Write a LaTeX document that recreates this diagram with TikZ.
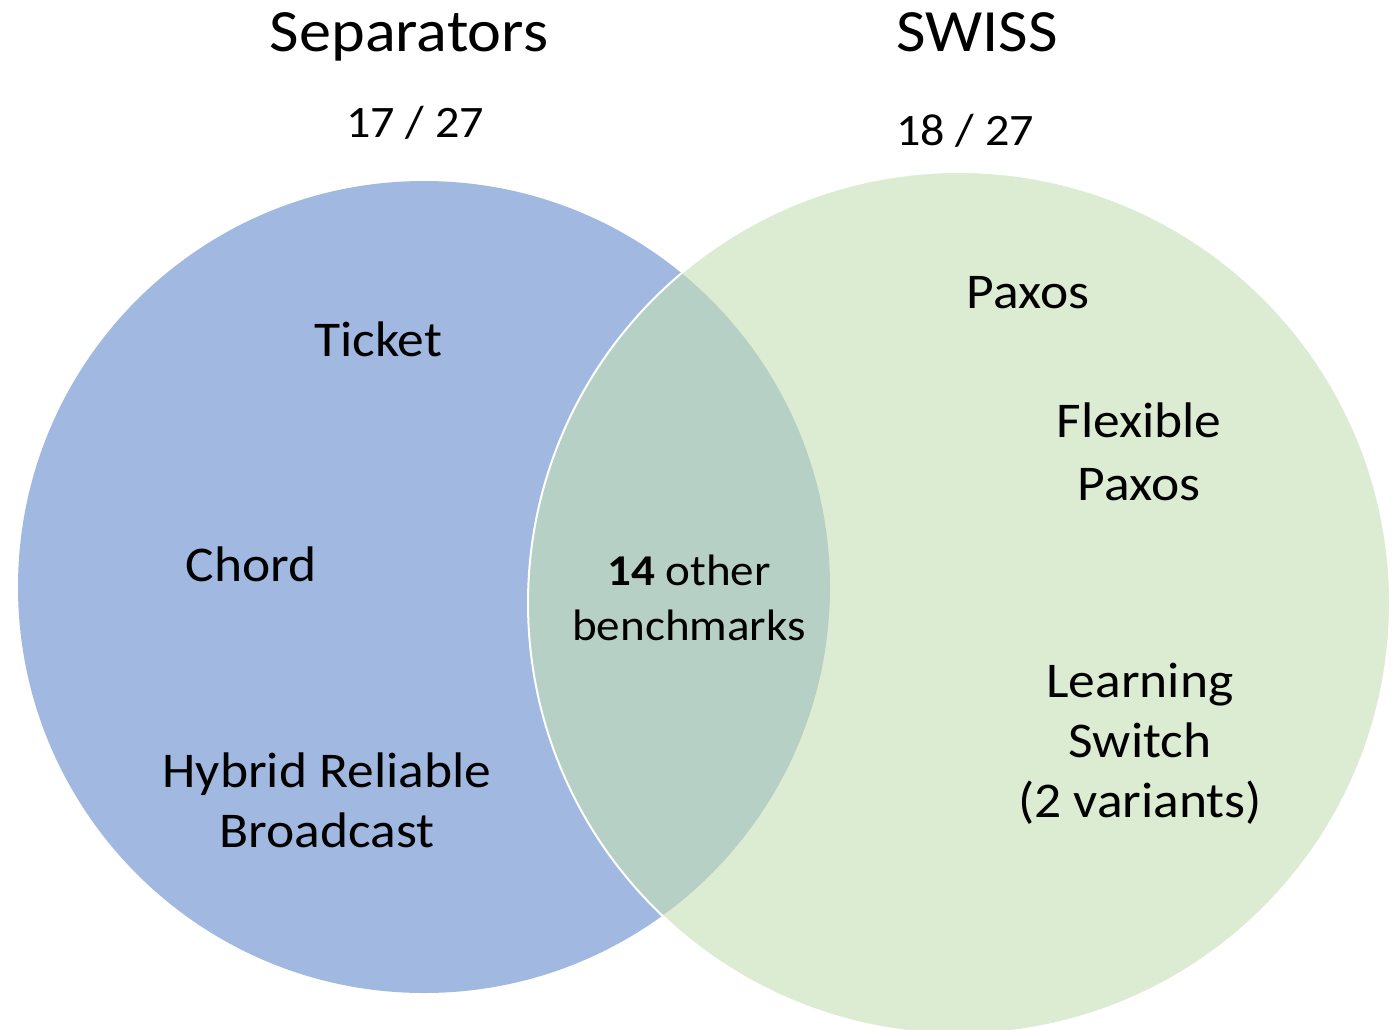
\documentclass[tikz,border=0pt]{standalone}
\usepackage{fontspec}
\setmainfont{Carlito}[FakeStretch=1.07]
\begin{document}
\begin{tikzpicture}[x=1pt,y=-1pt,
  lbl/.style={anchor=base,inner sep=0pt,align=center,font=\fontsize{50}{60}\selectfont},
  title/.style={anchor=base,inner sep=0pt,font=\fontsize{60}{72}\selectfont},
  count/.style={anchor=base,inner sep=0pt,font=\fontsize{45}{54}\selectfont}]
\definecolor{sepblue}{RGB}{161,184,224}
\definecolor{swissgreen}{RGB}{197,224,180}
\useasboundingbox (0,0) rectangle (1397,1029);
\fill[sepblue] (424,587) circle[radius=406];
\fill[swissgreen,fill opacity=0.6] (959,603) circle[radius=431];
\draw[white,line width=2pt] (959,603) circle[radius=431];
\node[title] (septitle) at (409,51) {Separators};
\node[title] (swisstitle) at (977,51) {SWISS};
\node[count] (sepcount) at (415,137) {17 / 27};
\node[count] (swisscount) at (965,145) {18 / 27};
\node[lbl] (ticket) at (378,356) {Ticket};
\node[lbl] (chord) at (251,581) {Chord};
\node[lbl] (hrb) at (327,847) {Hybrid Reliable\\Broadcast};
\node[lbl,font=\fontsize{44}{55}\selectfont] (other) at (689,640) {\textbf{14} other\\benchmarks};
\node[lbl] (paxos) at (1028,308) {Paxos};
\node[lbl,font=\fontsize{50}{63}\selectfont] (flex) at (1139,500) {Flexible\\Paxos};
\node[lbl] (ls) at (1140,817) {Learning\\Switch\\(2 variants)};
\end{tikzpicture}
\end{document}
